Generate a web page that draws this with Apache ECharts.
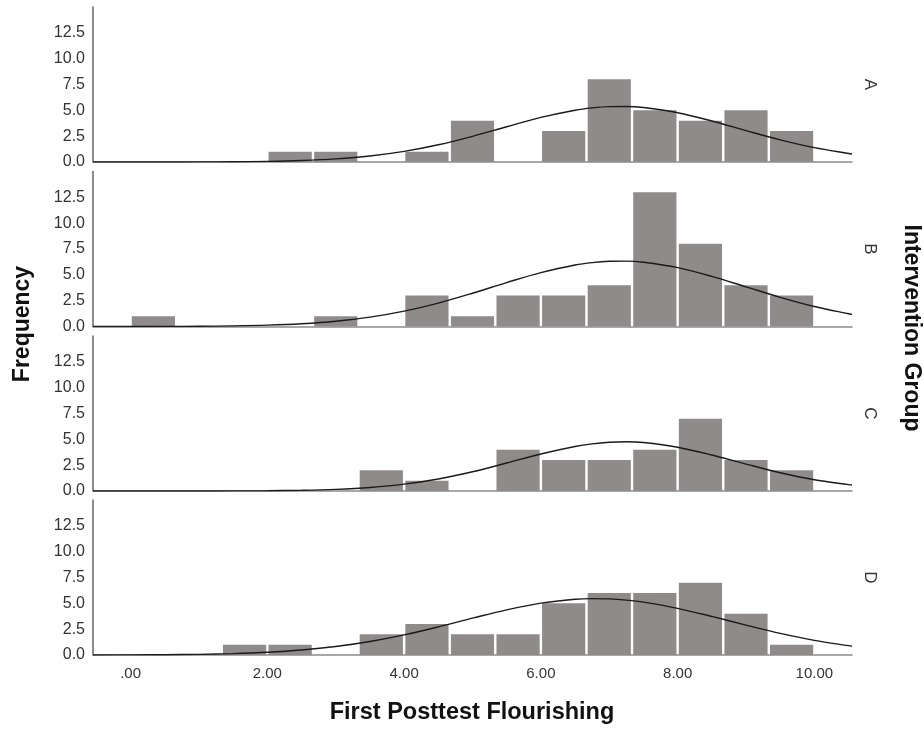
<!DOCTYPE html>
<html>
<head>
<meta charset="utf-8">
<script src="https://cdn.jsdelivr.net/npm/echarts@6/dist/echarts.min.js"></script>
<style>
html,body{margin:0;padding:0;background:#fff;}
#chart{width:924px;height:729px;}
</style>
</head>
<body>
<div id="chart"></div>
<script>
// ---- data ----
const groupLabels = ['A', 'B', 'C', 'D'];
const binEdges = [0, 0.667, 1.333, 2, 2.667, 3.333, 4, 4.667, 5.333, 6, 6.667, 7.333, 8, 8.667, 9.333, 10];
const countsA = [0, 0, 0, 1, 1, 0, 1, 4, 0, 3, 8, 5, 4, 5, 3];
const countsB = [1, 0, 0, 0, 1, 0, 3, 1, 3, 3, 4, 13, 8, 4, 3];
const countsC = [0, 0, 0, 0, 0, 2, 1, 0, 4, 3, 3, 4, 7, 3, 2];
const countsD = [0, 0, 1, 1, 0, 2, 3, 2, 2, 5, 6, 6, 7, 4, 1];
const curveX = [-0.55, 0, 0.5, 1, 1.5, 2, 2.5, 3, 3.5, 4, 4.5, 5, 5.5, 6, 6.5, 6.75, 7, 7.25, 7.5, 8, 8.5, 9, 9.5, 10, 10.5, 10.55];
const curveA = [0, 0.001, 0.003, 0.010, 0.026, 0.064, 0.145, 0.303, 0.581, 1.025, 1.665, 2.486, 3.414, 4.314, 5.013, 5.238, 5.360, 5.371, 5.271, 4.768, 3.968, 3.037, 2.139, 1.385, 0.825, 0.780];
const curveB = [0.001, 0.004, 0.010, 0.025, 0.060, 0.131, 0.269, 0.511, 0.904, 1.486, 2.269, 3.222, 4.253, 5.218, 5.951, 6.184, 6.309, 6.329, 6.218, 5.696, 4.850, 3.839, 2.825, 1.933, 1.229, 1.170];
const curveC = [0, 0, 0.001, 0.003, 0.009, 0.026, 0.068, 0.160, 0.341, 0.661, 1.163, 1.861, 2.709, 3.585, 4.312, 4.564, 4.716, 4.760, 4.690, 4.239, 3.484, 2.603, 1.768, 1.092, 0.613, 0.575];
const curveD = [0.004, 0.012, 0.030, 0.065, 0.136, 0.264, 0.480, 0.817, 1.303, 1.946, 2.721, 3.563, 4.369, 5.016, 5.392, 5.454, 5.427, 5.312, 5.116, 4.515, 3.731, 2.887, 2.092, 1.420, 0.902, 0.859];
const xTickValues = [0, 2, 4, 6, 8, 10];
const xAxisTitle = 'First Posttest Flourishing';
const yAxisTitle = 'Frequency';
const panelTitle = 'Intervention Group';

// ---- layout / style ----
const FONT = "'Liberation Sans', Arial, sans-serif";
const counts = [countsA, countsB, countsC, countsD];
const curves = [curveA, curveB, curveC, curveD];
const gridTops = [7, 171.5, 336, 500];
const gridH = 155;
const gridLeft = 93, gridRight = 72;
const barColor = '#8f8b8a';

const grids = [], xAxes = [], yAxes = [], series = [], graphics = [];
groupLabels.forEach((g, i) => {
  const isLast = i === groupLabels.length - 1;
  grids.push({ left: gridLeft, right: gridRight, top: gridTops[i], height: gridH });
  xAxes.push({
    type: 'value', gridIndex: i, min: -0.55, max: 10.55,
    axisLine: { show: true, onZero: false, lineStyle: { color: '#8c8c8c', width: 1.5 } },
    axisTick: { show: false },
    splitLine: { show: false },
    axisLabel: {
      show: isLast, customValues: xTickValues, margin: 11,
      color: '#333', fontSize: 15, fontFamily: FONT,
      formatter: v => v === 0 ? '.00' : v.toFixed(2)
    }
  });
  yAxes.push({
    type: 'value', gridIndex: i, min: 0, max: 15, interval: 2.5,
    axisLine: { show: true, onZero: false, lineStyle: { color: '#666', width: 1.5 } },
    axisTick: { show: false },
    splitLine: { show: false },
    axisLabel: {
      showMaxLabel: false, margin: 8, color: '#333', fontSize: 16, fontFamily: FONT,
      formatter: v => v.toFixed(1)
    }
  });
  const barData = counts[i].map((c, k) => [binEdges[k], binEdges[k + 1], c]);
  series.push({
    type: 'custom', xAxisIndex: i, yAxisIndex: i,
    encode: { x: [0, 1], y: 2 },
    data: barData,
    renderItem: (params, api) => {
      const p0 = api.coord([api.value(0), 0]);
      const p1 = api.coord([api.value(1), api.value(2)]);
      return {
        type: 'rect',
        shape: { x: p0[0] + 1.2, y: p1[1], width: p1[0] - p0[0] - 2.4, height: p0[1] - p1[1] },
        style: { fill: barColor }
      };
    },
    z: 2
  });
  series.push({
    type: 'line', xAxisIndex: i, yAxisIndex: i,
    data: curveX.map((x, k) => [x, curves[i][k]]),
    smooth: 0.35, showSymbol: false, symbol: 'none',
    lineStyle: { color: '#1a1a1a', width: 1.4 },
    z: 5, silent: true
  });
  graphics.push({
    type: 'text', x: 870, y: gridTops[i] + gridH / 2, rotation: -Math.PI / 2,
    style: { text: g, font: '17px ' + FONT, fill: '#333', align: 'center', verticalAlign: 'middle' }
  });
});

graphics.push({
  type: 'text', x: 23, y: 324, rotation: Math.PI / 2,
  style: { text: yAxisTitle, font: 'bold 23px ' + FONT, fill: '#111', align: 'center', verticalAlign: 'middle' }
});
graphics.push({
  type: 'text', x: 911, y: 328, rotation: -Math.PI / 2,
  style: { text: panelTitle, font: 'bold 23px ' + FONT, fill: '#111', align: 'center', verticalAlign: 'middle' }
});
graphics.push({
  type: 'text', x: 472, y: 713,
  style: { text: xAxisTitle, font: 'bold 23.5px ' + FONT, fill: '#111', align: 'center', verticalAlign: 'middle' }
});

const chart = echarts.init(document.getElementById('chart'), null, { renderer: 'canvas' });
chart.setOption({
  animation: false,
  backgroundColor: '#fff',
  grid: grids, xAxis: xAxes, yAxis: yAxes, series: series, graphic: graphics
});
</script>
</body>
</html>
